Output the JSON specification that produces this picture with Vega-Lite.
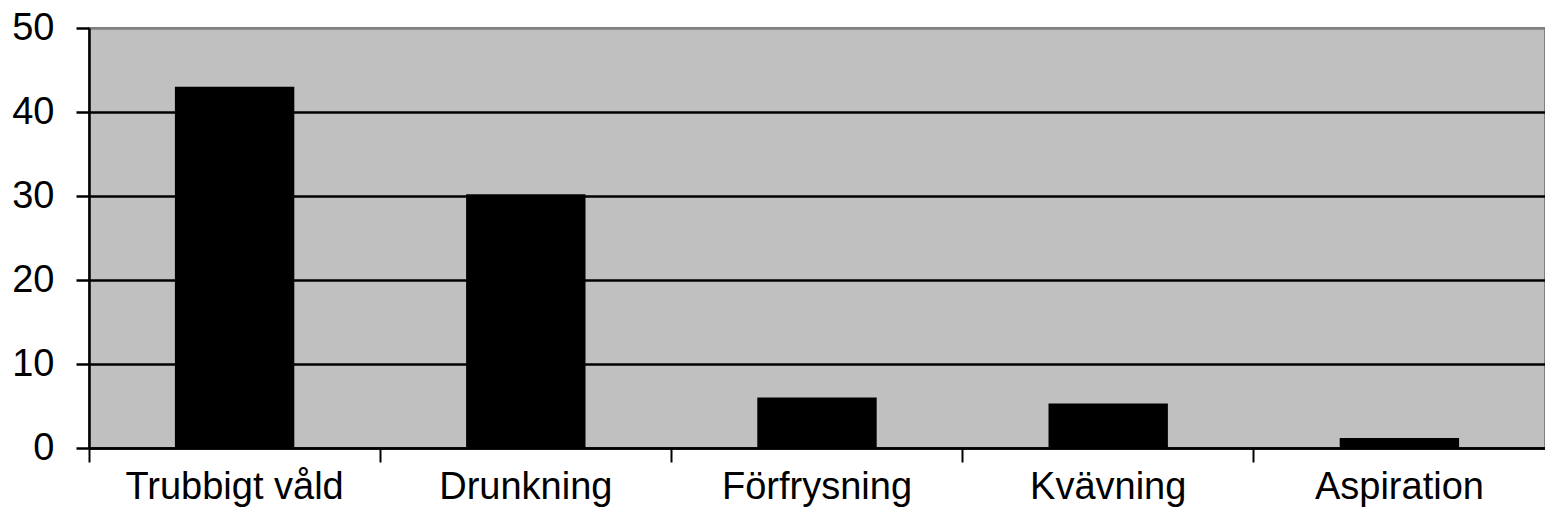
{
  "$schema": "https://vega.github.io/schema/vega-lite/v6.json",
  "autosize": "none",
  "padding": {"left": 89, "top": 28, "right": 0, "bottom": 83},
  "width": 1456,
  "height": 420,
  "background": "white",
  "config": {
    "view": {"fill": "#C0C0C0", "stroke": "#808080", "strokeWidth": 2},
    "font": "Liberation Sans"
  },
  "data": {
    "values": [
      {"Orsak": "Trubbigt våld", "Antal": 43},
      {"Orsak": "Drunkning", "Antal": 30.2},
      {"Orsak": "Förfrysning", "Antal": 6},
      {"Orsak": "Kvävning", "Antal": 5.3},
      {"Orsak": "Aspiration", "Antal": 1.2}
    ]
  },
  "mark": {"type": "bar", "color": "black", "width": {"band": 0.41}},
  "encoding": {
    "x": {
      "field": "Orsak",
      "type": "nominal",
      "sort": null,
      "scale": {"paddingInner": 0, "paddingOuter": 0},
      "axis": {
        "title": null,
        "labelAngle": 0,
        "labelLimit": 0,
        "bandPosition": 0,
        "grid": false,
        "tickSize": 14,
        "tickWidth": 2,
        "tickColor": "black",
        "domainColor": "black",
        "domainWidth": 2.5,
        "labelFontSize": 38,
        "labelColor": "black",
        "labelPadding": 6
      }
    },
    "y": {
      "field": "Antal",
      "type": "quantitative",
      "scale": {"domain": [0, 50]},
      "axis": {
        "title": null,
        "values": [0, 10, 20, 30, 40, 50],
        "grid": true,
        "gridColor": {"condition": {"test": "datum.value == 50", "value": "#808080"}, "value": "black"},
        "gridWidth": 2.5,
        "domainColor": "black",
        "domainWidth": 2.5,
        "tickColor": "black",
        "tickWidth": 2.5,
        "tickSize": 13,
        "labelFontSize": 38,
        "labelColor": "black",
        "labelPadding": 22
      }
    }
  }
}
